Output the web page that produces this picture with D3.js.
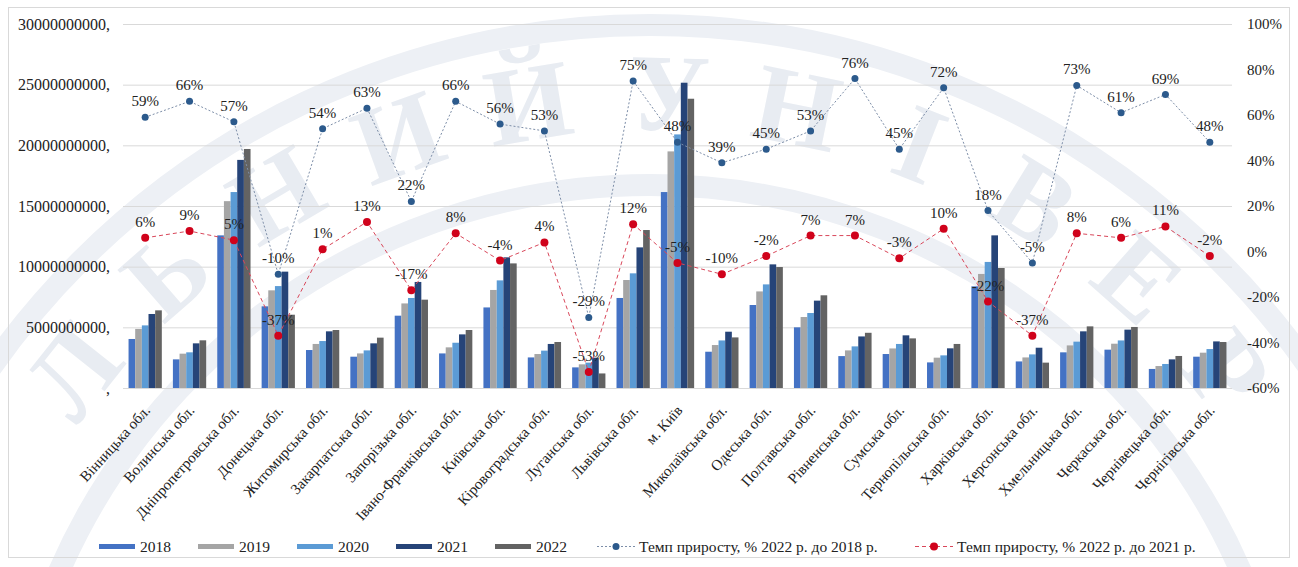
<!DOCTYPE html>
<html>
<head>
<meta charset="utf-8">
<script src="https://cdn.jsdelivr.net/npm/d3@7"></script>
<style>
  body { margin: 0; background: #fff; }
</style>
</head>
<body>
<div id="chart-area"></div>
<script>
const categories = [
  'Вінницька обл.', 'Волинська обл.', 'Дніпропетровська обл.', 'Донецька обл.',
  'Житомирська обл.', 'Закарпатська обл.', 'Запорізька обл.', 'Івано-Франківська обл.',
  'Київська обл.', 'Кіровоградська обл.', 'Луганська обл.', 'Львівська обл.', 'м. Київ',
  'Миколаївська обл.', 'Одеська обл.', 'Полтавська обл.', 'Рівненська обл.', 'Сумська обл.',
  'Тернопільська обл.', 'Харківська обл.', 'Херсонська обл.', 'Хмельницька обл.',
  'Черкаська обл.', 'Чернівецька обл.', 'Чернігівська обл.'
];
const years = ['2018', '2019', '2020', '2021', '2022'];

// values in billions
const v2018 = [4.04, 2.36, 12.58, 6.73, 3.13, 2.58, 5.96, 2.85, 6.64, 2.52, 1.7, 7.42, 16.15, 2.99, 6.84, 5.0, 2.63, 2.8, 2.11, 8.38, 2.19, 2.94, 3.16, 1.57, 2.58];
const v2019 = [4.87, 2.83, 15.4, 8.05, 3.63, 2.85, 6.97, 3.35, 8.08, 2.8, 1.95, 8.9, 19.5, 3.54, 7.96, 5.85, 3.1, 3.26, 2.5, 9.4, 2.52, 3.51, 3.65, 1.81, 2.91];
const v2020 = [5.16, 2.94, 16.15, 8.4, 3.87, 3.1, 7.42, 3.73, 8.87, 3.08, 2.09, 9.45, 20.9, 3.92, 8.54, 6.18, 3.43, 3.63, 2.69, 10.39, 2.77, 3.82, 3.92, 1.98, 3.21];
const v2021 = [6.1, 3.68, 18.8, 9.59, 4.67, 3.68, 8.74, 4.42, 10.77, 3.63, 2.5, 11.59, 25.16, 4.64, 10.19, 7.2, 4.25, 4.34, 3.27, 12.58, 3.32, 4.67, 4.81, 2.36, 3.84];
const v2022 = [6.4, 3.93, 19.7, 6.04, 4.78, 4.15, 7.28, 4.78, 10.27, 3.79, 1.2, 13.02, 23.84, 4.17, 9.97, 7.64, 4.55, 4.09, 3.63, 9.89, 2.09, 5.08, 5.03, 2.64, 3.79];

// growth rates, %
const growth18 = [59, 66, 57, -10, 54, 63, 22, 66, 56, 53, -29, 75, 48, 39, 45, 53, 76, 45, 72, 18, -5, 73, 61, 69, 48];
const growth21 = [6, 9, 5, -37, 1, 13, -17, 8, -4, 4, -53, 12, -5, -10, -2, 7, 7, -3, 10, -22, -37, 8, 6, 11, -2];

const leftTicks = [0, 5e9, 10e9, 15e9, 20e9, 25e9, 30e9];
const rightTicks = [-60, -40, -20, 0, 20, 40, 60, 80, 100];

const yearColors = ['#4472c4', '#a5a5a5', '#5b9bd5', '#264478', '#636363'];
const line18Label = 'Темп приросту, % 2022 р. до 2018 р.';
const line21Label = 'Темп приросту, % 2022 р. до 2021 р.';

const serif = 'Liberation Serif';
const ink = '#222';
const chartSize = { width: 1298, height: 567 };
const plot = { left: 123, right: 1232, top: 24, bottom: 388 };

// faint university seal in the background
const drawWatermark = (svg) => {
  const wm = svg.append('g').attr('class', 'watermark');
  const cx = 650, cy = 830, rt = 700;
  [805, 645].forEach(r => {
    wm.append('circle').attr('cx', cx).attr('cy', cy).attr('r', r)
      .attr('fill', 'none').attr('stroke', '#edf0f5').attr('stroke-width', 22);
  });
  const left = 'НАЦІОНАЛЬНИЙ'.split('');
  const right = 'УНІВЕРСИТЕТ'.split('');
  const letters = [
    ...left.map((ch, k) => ({ ch, a: -9.5 - (left.length - 1 - k) * 10.5 })),
    ...right.map((ch, k) => ({ ch, a: 1.5 + k * 10 }))
  ].filter(d => Math.abs(d.a) < 58);
  wm.selectAll('text').data(letters).join('text')
    .attr('transform', d => {
      const r = d.a * Math.PI / 180;
      return `translate(${cx + rt * Math.sin(r)},${cy - rt * Math.cos(r)}) rotate(${d.a})`;
    })
    .attr('text-anchor', 'middle')
    .attr('font-family', serif)
    .attr('font-size', 110)
    .attr('font-weight', 'bold')
    .attr('fill', '#e8ecf2')
    .text(d => d.ch);
};

const initChart = () => {
  const svg = d3.select('#chart-area').append('svg')
    .attr('width', chartSize.width)
    .attr('height', chartSize.height);

  drawWatermark(svg);

  svg.append('rect')
    .attr('x', 8.5).attr('y', 7.5)
    .attr('width', 1281).attr('height', 550)
    .attr('fill', 'none').attr('stroke', '#d9d9d9');

  const x = d3.scaleBand().domain(categories)
    .range([plot.left, plot.right]).paddingInner(0.25).paddingOuter(0.125);
  const xYear = d3.scaleBand().domain(years).range([0, x.bandwidth()]);
  const y = d3.scaleLinear().domain([0, 30e9]).range([plot.bottom, plot.top]);
  const y2 = d3.scaleLinear().domain([-60, 100]).range([plot.bottom, plot.top]);

  // gridlines + left axis
  const yAxis = d3.axisLeft(y).tickValues(leftTicks)
    .tickSize(-(plot.right - plot.left)).tickPadding(13)
    .tickFormat(d => d === 0 ? ',' : d3.format('d')(d) + ',');
  const yg = svg.append('g').attr('class', 'y axis')
    .attr('transform', `translate(${plot.left},0)`).call(yAxis);
  yg.select('.domain').remove();
  yg.selectAll('line').attr('stroke', '#d9d9d9');
  yg.selectAll('text').attr('font-family', serif).attr('font-size', 16).attr('fill', ink);

  const y2Axis = d3.axisRight(y2).tickValues(rightTicks).tickSize(0).tickPadding(15)
    .tickFormat(d => d + '%');
  const y2g = svg.append('g').attr('class', 'y2 axis')
    .attr('transform', `translate(${plot.right},0)`).call(y2Axis);
  y2g.select('.domain').remove();
  y2g.selectAll('text').attr('font-family', serif).attr('font-size', 15).attr('fill', ink);

  // bars
  const series = [v2018, v2019, v2020, v2021, v2022];
  const barG = svg.append('g').attr('class', 'bars');
  series.forEach((vals, i) => {
    barG.selectAll(`.bar-${years[i]}`)
      .data(vals)
      .join('rect')
      .attr('class', `bar-${years[i]}`)
      .attr('x', (d, j) => x(categories[j]) + xYear(years[i]))
      .attr('y', d => y(d * 1e9))
      .attr('width', xYear.bandwidth())
      .attr('height', d => plot.bottom - y(d * 1e9))
      .attr('fill', yearColors[i]);
  });

  // x labels
  svg.append('g').attr('class', 'x labels')
    .selectAll('text').data(categories).join('text')
    .attr('transform', d => `translate(${x(d) + x.bandwidth() / 2 - 2},404) rotate(-48)`)
    .attr('text-anchor', 'end')
    .attr('dy', '0.7em')
    .attr('font-family', serif)
    .attr('font-size', 15)
    .attr('fill', ink)
    .text(d => d);

  const cxOf = (j) => x(categories[j]) + x.bandwidth() / 2;

  const drawLine = (vals, lineColor, dash, dotColor, r) => {
    const g = svg.append('g');
    const line = d3.line().x((d, j) => cxOf(j)).y(d => y2(d));
    g.append('path').datum(vals)
      .attr('d', line).attr('fill', 'none')
      .attr('stroke', lineColor).attr('stroke-width', 1)
      .attr('stroke-dasharray', dash);
    g.selectAll('circle').data(vals).join('circle')
      .attr('cx', (d, j) => cxOf(j)).attr('cy', d => y2(d))
      .attr('r', r).attr('fill', dotColor);
    return g;
  };

  const g18 = drawLine(growth18, '#7d8ea8', '2,2', '#2c5a8c', 3.5);
  const g21 = drawLine(growth21, '#d9475a', '4,3', '#d0021b', 4);

  [[growth18, g18], [growth21, g21]].forEach(([vals, g]) => {
    g.selectAll('text').data(vals).join('text')
      .attr('x', (d, j) => cxOf(j))
      .attr('y', d => y2(d) - 11)
      .attr('text-anchor', 'middle')
      .attr('font-family', serif)
      .attr('font-size', 15)
      .attr('fill', ink)
      .text(d => d + '%');
  });

  // legend
  const leg = svg.append('g').attr('class', 'legend');
  years.forEach((yr, i) => {
    const lx = 99 + i * 99;
    leg.append('rect').attr('x', lx).attr('y', 544).attr('width', 36).attr('height', 5)
      .attr('fill', yearColors[i]);
    leg.append('text').attr('x', lx + 41).attr('y', 552)
      .attr('font-family', serif).attr('font-size', 15.5).attr('fill', ink)
      .text(yr);
  });
  const lineLegend = (lx, color, dash, dot, r, label) => {
    leg.append('line').attr('x1', lx).attr('x2', lx + 38).attr('y1', 546.5).attr('y2', 546.5)
      .attr('stroke', color).attr('stroke-dasharray', dash);
    leg.append('circle').attr('cx', lx + 19).attr('cy', 546.5).attr('r', r).attr('fill', dot);
    leg.append('text').attr('x', lx + 42).attr('y', 552)
      .attr('font-family', serif).attr('font-size', 15.5).attr('fill', ink)
      .text(label);
  };
  lineLegend(597, '#7d8ea8', '2,2', '#2c5a8c', 3.5, line18Label);
  lineLegend(915, '#d9475a', '4,3', '#d0021b', 4, line21Label);
};

window.onload = initChart;
</script>
</body>
</html>
